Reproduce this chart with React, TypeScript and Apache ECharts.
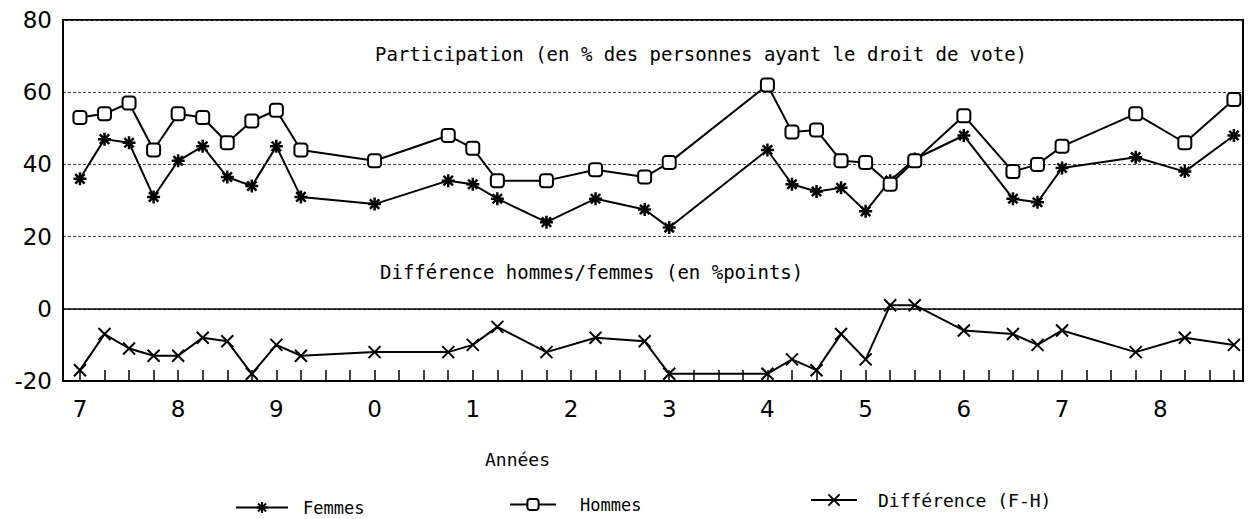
import React, { useEffect, useRef } from "react";
import * as echarts from "echarts";

// Quarter index (0 = first quarter of year "7"), only dates with a vote
const quarterIdx = [0, 1, 2, 3, 4, 5, 6, 7, 8, 9, 12, 15, 16, 17, 19, 21, 23, 24, 28, 29, 30, 31, 32, 33, 34, 36, 38, 39, 40, 43, 45, 47];
const femmes = [36, 47, 46, 31, 41, 45, 36.5, 34, 45, 31, 29, 35.5, 34.5, 30.5, 24, 30.5, 27.5, 22.5, 44, 34.5, 32.5, 33.5, 27, 35.5, 41.5, 48, 30.5, 29.5, 39, 42, 38, 48];
const hommes = [53, 54, 57, 44, 54, 53, 46, 52, 55, 44, 41, 48, 44.5, 35.5, 35.5, 38.5, 36.5, 40.5, 62, 49, 49.5, 41, 40.5, 34.5, 41, 53.5, 38, 40, 45, 54, 46, 58];
const difference = [-17, -7, -11, -13, -13, -8, -9, -18, -10, -13, -12, -12, -10, -5, -12, -8, -9, -18, -18, -14, -17, -7, -14, 1, 1, -6, -7, -10, -6, -12, -8, -10];
const yearLabels = ["7", "8", "9", "0", "1", "2", "3", "4", "5", "6", "7", "8"];
const quartersPerYear = 4;
const lastQuarter = 47;

const titleTop = "Participation (en % des personnes ayant le droit de vote)";
const titleBottom = "Différence hommes/femmes (en %points)";
const xName = "Années";
const seriesNames = ["Femmes", "Hommes", "Différence (F-H)"];

const MONO = "'DejaVu Sans Mono', 'Liberation Mono', monospace";
const SANS = "'DejaVu Sans', 'Liberation Sans', sans-serif";

const asterisk = "path://M0,-10L0,10M-10,0L10,0M-7.2,-7.2L7.2,7.2M-7.2,7.2L7.2,-7.2";
const cross = "path://M-10,-10L10,10M-10,10L10,-10";

export default function App() {
  const ref = useRef<HTMLDivElement>(null);
  useEffect(() => {
    if (!ref.current) return;
    const chart = echarts.init(ref.current, undefined, { renderer: "svg" });
    const pairs = (vals: number[]) => quarterIdx.map((q, i) => [q, vals[i]]);
    const tickVals: number[] = [];
    for (let q = 0; q <= lastQuarter; q++) tickVals.push(q);
    const labelVals = yearLabels.map((_, i) => i * quartersPerYear);

    const legendBase = {
      orient: "horizontal",
      padding: 0,
      itemHeight: 14,
      textStyle: { fontFamily: MONO, fontSize: 17, color: "#000" },
    };

    chart.setOption({
      animation: false,
      backgroundColor: "#fff",
      color: ["#000", "#000", "#000"],
      grid: {
        left: 63,
        right: 8,
        top: 20,
        bottom: 138,
        show: true,
        borderColor: "#000",
        borderWidth: 2,
        backgroundColor: "transparent",
      },
      title: [
        {
          text: titleTop,
          left: 375,
          top: 44,
          padding: 0,
          textStyle: { fontFamily: MONO, fontSize: 19, fontWeight: "normal", color: "#000" },
        },
        {
          text: titleBottom,
          left: 380,
          top: 262,
          padding: 0,
          textStyle: { fontFamily: MONO, fontSize: 19, fontWeight: "normal", color: "#000" },
        },
        {
          text: xName,
          left: 485,
          top: 450,
          padding: 0,
          textStyle: { fontFamily: MONO, fontSize: 18, fontWeight: "normal", color: "#000" },
        },
      ],
      legend: [
        { ...legendBase, data: [seriesNames[0]], left: 235, top: 499, itemWidth: 52, textStyle: { ...legendBase.textStyle, padding: [0, 0, 0, 10] } },
        { ...legendBase, data: [seriesNames[1]], left: 509, top: 496, itemWidth: 46, textStyle: { ...legendBase.textStyle, padding: [0, 0, 0, 19] } },
        { ...legendBase, data: [seriesNames[2]], left: 810, top: 491, itemWidth: 46, textStyle: { ...legendBase.textStyle, fontSize: 18, padding: [0, 0, 0, 16] } },
      ],
      xAxis: {
        type: "value",
        min: -0.69,
        max: 47.37,
        axisLine: { show: true, onZero: false, lineStyle: { color: "#000", width: 2 } },
        axisTick: {
          show: true,
          inside: true,
          length: 11,
          customValues: tickVals,
          lineStyle: { color: "#000", width: 1.5 },
        },
        axisLabel: {
          customValues: labelVals,
          formatter: (v: number) => yearLabels[Math.round(v / quartersPerYear)] ?? "",
          fontFamily: SANS,
          fontSize: 23,
          color: "#000",
          margin: 16,
        },
        splitLine: { show: false },
      },
      yAxis: {
        type: "value",
        min: -20,
        max: 80,
        interval: 20,
        axisLine: { show: true, onZero: false, lineStyle: { color: "#000", width: 2 } },
        axisTick: { show: false },
        axisLabel: { fontFamily: SANS, fontSize: 23, color: "#000", margin: 11 },
        splitLine: { show: true, lineStyle: { color: "#444", width: 1, type: [3, 2] } },
      },
      series: [
        {
          name: seriesNames[0],
          type: "line",
          data: pairs(femmes),
          symbol: asterisk,
          symbolSize: 13,
          showAllSymbol: true,
          lineStyle: { color: "#000", width: 2 },
          itemStyle: { color: "#000", borderColor: "#000", borderWidth: 2.5 },
          z: 3,
        },
        {
          name: seriesNames[1],
          type: "line",
          data: pairs(hommes),
          symbol: "emptyRoundRect",
          symbolSize: 13,
          showAllSymbol: true,
          lineStyle: { color: "#000", width: 2 },
          itemStyle: { color: "#000", borderColor: "#000", borderWidth: 2 },
          z: 3,
        },
        {
          name: seriesNames[2],
          type: "line",
          data: pairs(difference),
          symbol: cross,
          symbolSize: 12,
          showAllSymbol: true,
          lineStyle: { color: "#000", width: 2 },
          itemStyle: { color: "#000", borderColor: "#000", borderWidth: 2 },
          z: 3,
          markLine: {
            silent: true,
            symbol: "none",
            label: { show: false },
            lineStyle: { color: "#000", width: 1.5, type: "solid" },
            data: [{ yAxis: 0 }],
          },
        },
      ],
    });
    return () => chart.dispose();
  }, []);
  return (
    <div
      ref={ref}
      style={{ position: "fixed", left: 0, top: 0, width: 1251, height: 519, background: "#fff" }}
    />
  );
}
